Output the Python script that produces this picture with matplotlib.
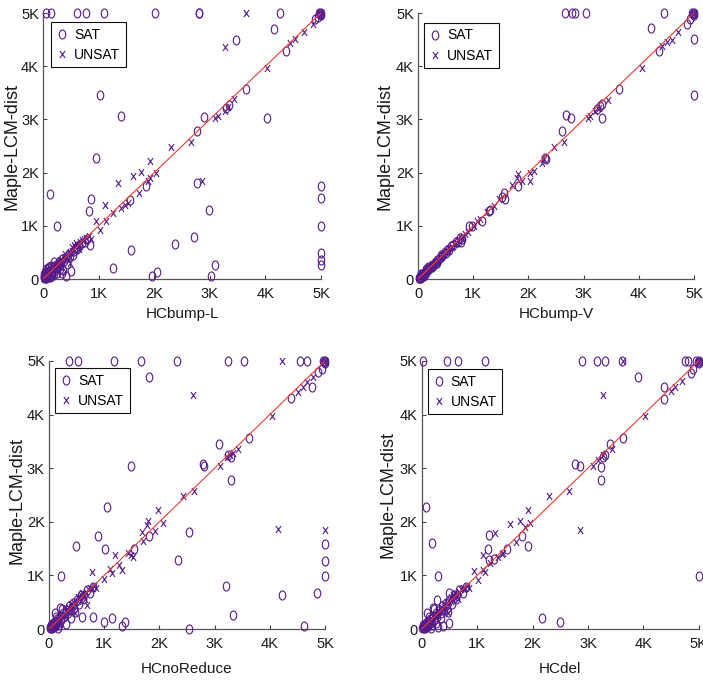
import numpy as np
import matplotlib
matplotlib.use('Agg')
from matplotlib import pyplot as plt
from matplotlib.path import Path

plt.rcParams['font.family'] = ['Liberation Sans', 'DejaVu Sans']

# solver names on the x axis
solvers = ['HCbump-L', 'HCbump-V', 'HCnoReduce', 'HCdel']
ylabel = 'Maple-LCM-dist'
ticks = [0, 1000, 2000, 3000, 4000, 5000]
tick_labels = ['0', '1K', '2K', '3K', '4K', '5K']
diag = [0, 5000]

# (x, y) runtimes
hcbump_l_sat = [
    (60, 5000), (150, 5000), (615, 5000), (770, 5000), (1095, 5000), (2020, 5000), (2800, 5000),
    (2810, 5000), (4270, 5000), (4160, 4700), (3480, 4500), (4375, 4290), (3650, 3570), (1020, 3455),
    (1395, 3065), (2900, 3040), (4030, 3030), (2775, 2775), (950, 2275), (120, 1600), (855, 1495),
    (830, 1270), (245, 990), (1845, 1745), (1570, 1490), (2775, 1800), (2980, 1295), (5000, 1740),
    (5000, 1530), (5000, 990), (5000, 490), (5000, 365), (5000, 270), (1585, 540), (2375, 665),
    (2710, 790), (1250, 205), (1960, 50), (2050, 125), (3100, 265), (3015, 55), (3300, 3210),
    (3340, 3270), (4900, 4880), (4950, 4930), (5000, 5000), (4980, 4990), (4960, 5000), (5000, 4960),
    (20, 30), (40, 80), (60, 20), (80, 120), (100, 60), (120, 160), (150, 100), (60, 180), (30, 130),
    (180, 220), (200, 150), (230, 260), (260, 200), (280, 320), (300, 250), (330, 300), (350, 380),
    (380, 330), (420, 400), (450, 460), (480, 430), (510, 145), (420, 60), (365, 165), (130, 30),
    (250, 120), (560, 520), (600, 580), (650, 620), (700, 680), (760, 700), (800, 760), (840, 640),
    (90, 200), (170, 50), (300, 180), (200, 320), (440, 280), (540, 460), (620, 560), (340, 120),
    (10, 10), (15, 60), (35, 45), (45, 15), (70, 35), (25, 95), (85, 85), (110, 40), (55, 140),
    (140, 70), (160, 130), (190, 90), (220, 200), (110, 230), (150, 250), (270, 240),
]
hcbump_l_unsat = [
    (3275, 4370), (3650, 5000), (4030, 3975), (4450, 4430), (4540, 4520), (4700, 4640), (4860, 4800),
    (3085, 3020), (3155, 3065), (3265, 3150), (3325, 3230), (3435, 3380), (2655, 2575), (2295, 2485),
    (2860, 1850), (1930, 2225), (1765, 2015), (1610, 1945), (1350, 1800), (2040, 2000), (1890, 1840),
    (1925, 1900), (1720, 1620), (1120, 1400), (960, 1085), (1020, 930), (1140, 1085), (1260, 1245),
    (1410, 1340), (1470, 1400), (1525, 1430), (5000, 5000), (4990, 4970), (4970, 5000),
    (20, 20), (50, 40), (70, 90), (100, 110), (130, 120), (160, 170), (190, 180), (220, 240),
    (250, 260), (280, 270), (310, 320), (340, 350), (370, 390), (400, 410), (430, 420), (460, 480),
    (490, 500), (520, 530), (550, 560), (580, 600), (610, 640), (640, 620), (670, 690), (700, 740),
    (740, 760), (780, 770), (820, 800), (860, 760), (300, 360), (480, 300), (560, 640), (600, 680),
    (400, 470), (520, 600), (650, 560), (40, 10), (80, 60), (120, 80), (180, 140), (230, 190),
]
hcbump_v_sat = [
    (2665, 5000), (2785, 5000), (2845, 5000), (3040, 5000), (4455, 5000), (5000, 4510), (5000, 3455),
    (4215, 4710), (4365, 4290), (4865, 4790), (4925, 4890), (3650, 3570), (3340, 3035), (2775, 3035),
    (2685, 3075), (2605, 2775), (3240, 3190), (3300, 3250), (3335, 3285), (2320, 2260), (2300, 2280),
    (1820, 1745), (1550, 1610), (1520, 1545), (1580, 1495), (1310, 1305), (1290, 1280), (915, 1005),
    (975, 990), (1160, 1085), (800, 750), (780, 690), (5000, 5000), (4990, 4980), (4960, 5000),
    (5000, 4960),
    (20, 20), (40, 50), (60, 40), (80, 90), (100, 80), (120, 130), (140, 120), (160, 170), (180, 160),
    (200, 210), (220, 200), (250, 260), (270, 250), (300, 310), (320, 300), (350, 360), (380, 370),
    (410, 420), (440, 430), (470, 490), (500, 480), (530, 550), (560, 540), (600, 620), (640, 630),
    (680, 700), (720, 690), (760, 780), (60, 90), (110, 60), (190, 230), (260, 220), (340, 300),
    (420, 460), (10, 15), (30, 10), (50, 25), (90, 60), (130, 100), (150, 180),
]
hcbump_v_unsat = [
    (4050, 3975), (4415, 4385), (4505, 4460), (4595, 4495), (4705, 4635), (3085, 3035), (3120, 3065),
    (3210, 3150), (3270, 3220), (3450, 3365), (2650, 2575), (2465, 2485), (2275, 2250), (2245, 2185),
    (2095, 2030), (2030, 2000), (2030, 1840), (1820, 1965), (1790, 1905), (1880, 1840), (1700, 1775),
    (1460, 1495), (1370, 1370), (1250, 1255), (1130, 1120), (1065, 1085), (1020, 990), (5000, 5000),
    (4980, 4990),
    (30, 30), (50, 60), (70, 70), (90, 100), (110, 110), (130, 140), (150, 150), (170, 180),
    (190, 190), (210, 220), (240, 230), (260, 270), (290, 280), (310, 320), (330, 340), (360, 350),
    (390, 400), (420, 410), (450, 460), (480, 470), (510, 520), (540, 530), (570, 590), (610, 600),
    (650, 660), (690, 680), (730, 740), (780, 770), (820, 800), (860, 850), (900, 880),
]
hcnoreduce_sat = [
    (362, 5000), (520, 5000), (1178, 5000), (1660, 5000), (2325, 5000), (3237, 5000), (3540, 5000),
    (4548, 5000), (4680, 5000), (1818, 4700), (4770, 4510), (4380, 4315), (4870, 4790), (4940, 4855),
    (3630, 3570), (3080, 3450), (1486, 3040), (2785, 3075), (2810, 3040), (3305, 2780), (1057, 2280),
    (2537, 1805), (880, 1740), (1818, 1735), (490, 1540), (1020, 1495), (1540, 1490), (2343, 1290),
    (5000, 1590), (5000, 1275), (5000, 990), (217, 990), (3200, 795), (4215, 630), (4860, 670),
    (3340, 260), (4625, 62), (2535, 0), (1330, 50), (1375, 124), (1147, 198), (1000, 136), (790, 223),
    (590, 223), (3250, 3250), (3300, 3200), (5000, 5000), (4980, 4990), (4960, 5000), (5000, 4960),
    (20, 40), (40, 20), (60, 80), (80, 50), (100, 130), (130, 90), (150, 180), (170, 120), (200, 240),
    (220, 170), (250, 300), (280, 220), (310, 350), (340, 290), (370, 420), (400, 360), (430, 480),
    (460, 400), (500, 550), (540, 470), (580, 630), (620, 560), (680, 720), (740, 680), (800, 790),
    (200, 400), (230, 380), (130, 230), (300, 100), (400, 200), (480, 320), (160, 10), (100, 300),
    (10, 10), (30, 70), (55, 15), (70, 110), (90, 30), (115, 60), (140, 150), (180, 80),
]
hcnoreduce_unsat = [
    (4215, 5000), (2615, 4360), (4140, 1870), (5000, 1850), (4035, 3970), (4515, 4420), (4595, 4510),
    (4680, 4605), (4775, 4700), (3100, 3040), (3220, 3210), (3280, 3245), (3340, 3285), (3430, 3365),
    (2635, 2575), (2435, 2485), (1975, 2220), (1800, 2015), (1770, 1940), (1680, 1805), (1920, 1835),
    (2070, 1985), (1695, 1635), (1195, 1380), (1270, 1195), (1320, 1105), (1105, 1115), (1135, 1040),
    (995, 930), (775, 1070), (1440, 1410), (1485, 1380), (1530, 1350), (680, 450), (5000, 5000),
    (4980, 4990),
    (20, 20), (50, 40), (70, 90), (100, 110), (130, 120), (160, 170), (190, 180), (220, 240),
    (250, 260), (280, 270), (310, 320), (340, 350), (370, 390), (400, 410), (430, 420), (460, 480),
    (490, 500), (520, 530), (550, 560), (580, 640), (610, 660), (640, 620), (670, 690), (700, 740),
    (740, 760), (780, 770), (820, 800), (860, 760), (300, 360), (480, 300), (560, 600), (600, 680),
    (400, 470), (520, 600), (650, 560), (40, 10), (80, 60), (120, 80), (180, 140),
]
hcdel_sat = [
    (18, 5000), (463, 5000), (656, 5000), (1150, 5000), (2900, 5000), (3160, 5000), (3317, 5000),
    (3612, 5000), (4755, 5000), (4815, 5000), (3900, 4710), (4375, 4510), (4365, 4295), (4860, 4775),
    (4905, 4855), (3640, 3570), (3400, 3460), (3310, 3245), (3280, 3200), (3235, 3025), (3245, 2780),
    (2770, 3075), (2860, 3040), (72, 2280), (180, 1600), (300, 990), (1216, 1755), (1204, 1495),
    (1547, 1495), (1926, 1540), (1810, 1735), (1210, 1280), (1305, 1315), (5000, 990), (2167, 205),
    (2500, 136), (494, 112), (390, 62), (300, 37), (283, 545), (494, 670), (5000, 5000),
    (4980, 4990), (4960, 5000), (5000, 4960),
    (20, 40), (40, 20), (60, 80), (80, 50), (100, 130), (130, 90), (150, 180), (170, 120), (200, 240),
    (220, 170), (250, 300), (280, 220), (310, 350), (340, 290), (370, 420), (400, 360), (430, 480),
    (460, 400), (500, 550), (540, 470), (580, 630), (620, 560), (680, 720), (740, 680), (800, 790),
    (200, 400), (230, 380), (130, 230), (250, 120), (350, 200), (480, 320), (160, 10), (100, 300),
    (10, 10), (30, 70), (55, 15), (70, 110), (90, 30), (115, 60), (140, 150), (180, 80),
]
hcdel_unsat = [
    (3625, 5000), (3280, 4370), (2860, 1850), (4035, 3970), (4505, 4435), (4575, 4515), (4695, 4625),
    (3100, 3040), (3190, 3150), (3280, 3245), (3430, 3365), (2650, 2575), (2290, 2485), (1926, 2220),
    (1765, 2015), (1595, 1960), (1330, 1800), (1865, 1910), (1955, 1985), (1700, 1630), (1100, 1385),
    (945, 1090), (1023, 918), (1115, 1105), (1145, 1060), (1235, 1240), (1385, 1350), (1445, 1395),
    (1475, 1415), (5000, 5000), (4980, 4990),
    (20, 20), (50, 40), (70, 90), (100, 110), (130, 120), (160, 170), (190, 180), (220, 240),
    (250, 260), (280, 270), (310, 320), (340, 350), (370, 390), (400, 410), (430, 420), (460, 480),
    (490, 500), (520, 530), (550, 560), (580, 600), (610, 640), (640, 620), (670, 690), (700, 740),
    (740, 760), (780, 770), (820, 800), (860, 760), (300, 360), (480, 300), (560, 640), (600, 680),
    (400, 470), (520, 600), (650, 560), (40, 10), (80, 60), (120, 80), (180, 140),
]

sat_sets = [hcbump_l_sat, hcbump_v_sat, hcnoreduce_sat, hcdel_sat]
unsat_sets = [hcbump_l_unsat, hcbump_v_unsat, hcnoreduce_unsat, hcdel_unsat]

# axes boxes (left, bottom, width, height) in figure fraction
boxes = [
    [0.0612, 0.5909, 0.3954, 0.3900],
    [0.5946, 0.5909, 0.3926, 0.3900],
    [0.0697, 0.0777, 0.3926, 0.3930],
    [0.5999, 0.0777, 0.3940, 0.3930],
]
# label and legend placement in axes fraction
ylabel_pos = [(-0.08, 0.5), (-0.09, 0.5), (-0.085, 0.48), (-0.09, 0.5)]
xlabel_pos = [(0.5, -0.105), (0.5, -0.105), (0.5, -0.123), (0.5, -0.123)]
legend_pos = [(0.029, 0.966), (0.022, 0.963), (0.022, 0.974), (0.022, 0.970)]

# tall "O" and "x" markers like the stretched original
circ = Path.unit_circle()
o_marker = Path(circ.vertices * [0.72, 1.0], circ.codes)
x_marker = Path([(-0.75, -1), (0.75, 1), (-0.75, 1), (0.75, -1)],
                [Path.MOVETO, Path.LINETO, Path.MOVETO, Path.LINETO])

purple = '#551a8b'
red = '#f03c2e'

fig = plt.figure(figsize=(7.03, 6.82), dpi=100)

for i in range(4):
    ax = fig.add_axes(boxes[i])
    sat = np.array(sat_sets[i]).T
    unsat = np.array(unsat_sets[i]).T
    ax.plot(sat[0], sat[1], linestyle='none', marker=o_marker, ms=6.5, mfc='none',
            mec=purple, mew=0.8, clip_on=False, label='SAT', zorder=3)
    ax.plot(unsat[0], unsat[1], linestyle='none', marker=x_marker, ms=5, mec=purple,
            mew=0.8, clip_on=False, label='UNSAT', zorder=3)
    ax.plot(diag, diag, c=red, lw=0.8, zorder=4)

    ax.set_xlim(0, 5000)
    ax.set_ylim(0, 5000)
    ax.set_xticks(ticks)
    ax.set_yticks(ticks)
    ax.set_xticklabels(tick_labels)
    ax.set_yticklabels(tick_labels)
    ax.tick_params(axis='both', direction='in', length=3, width=0.8, colors='#444444',
                   labelcolor='#1a1a1a', labelsize=10.5)
    ax.tick_params(axis='x', pad=5.5)
    ax.tick_params(axis='y', pad=3)
    for s in ['top', 'right']:
        ax.spines[s].set_visible(False)
    for s in ['left', 'bottom']:
        ax.spines[s].set_color('#555555')
        ax.spines[s].set_linewidth(0.9)

    ax.set_xlabel(solvers[i], fontsize=11, color='#1a1a1a', va='top')
    ax.xaxis.set_label_coords(*xlabel_pos[i])
    ax.set_ylabel(ylabel, fontsize=13, color='#1a1a1a')
    ax.yaxis.set_label_coords(*ylabel_pos[i])

    leg = ax.legend(loc='upper left', bbox_to_anchor=legend_pos[i], borderaxespad=0,
                    fancybox=False, edgecolor='#111111', framealpha=1, fontsize=10,
                    handlelength=0.8, handletextpad=0.45, borderpad=0.4, labelspacing=0.45)
    leg.get_frame().set_linewidth(0.8)

fig.savefig('out.png', dpi=100)
